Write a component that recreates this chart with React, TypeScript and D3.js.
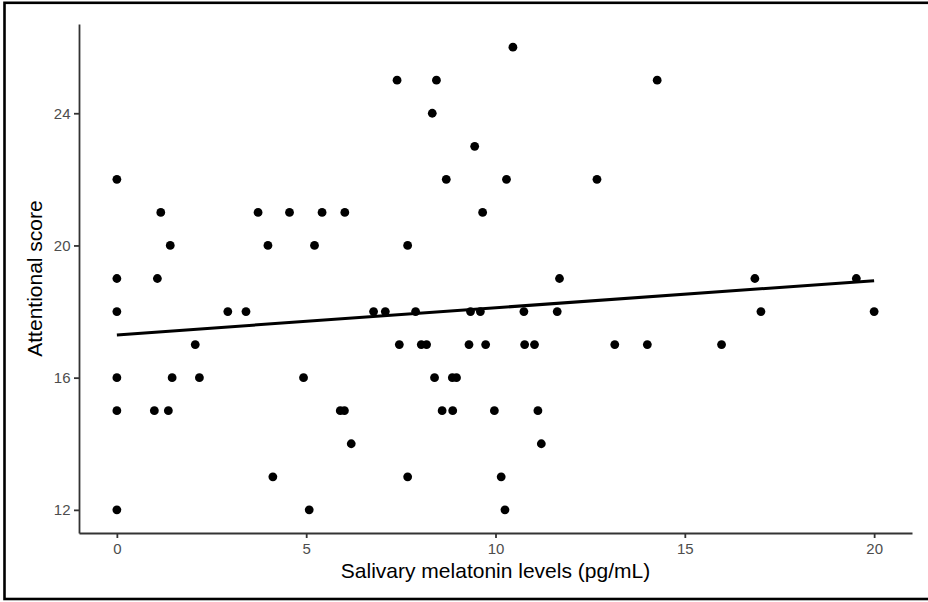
import React, { useRef, useEffect } from 'react';
import * as d3 from 'd3';

// salivary melatonin (pg/mL) and attentional score, one entry per participant
const melatonin = [
  10.46,
  7.40, 8.44, 14.27,
  8.33,
  9.45,
  0, 8.70, 10.29, 12.68,
  1.16, 3.73, 4.56, 5.42, 6.02, 9.66,
  1.41, 3.99, 5.22, 7.68,
  0, 1.07, 11.69, 16.85, 19.53,
  0, 2.93, 3.41, 6.78, 7.09, 7.89, 9.34, 9.60, 10.75, 11.63, 17.01, 20.0,
  2.07, 7.46, 8.04, 8.18, 9.30, 9.74, 10.77, 11.03, 13.15, 14.01, 15.97,
  0, 1.46, 2.18, 4.93, 8.39, 8.86, 8.97,
  0, 0.99, 1.36, 5.90, 6.01, 8.59, 8.87, 9.97, 11.12,
  6.19, 11.21,
  4.12, 7.68, 10.15,
  0, 5.08, 10.25,
];
const attention = [
  26,
  25, 25, 25,
  24,
  23,
  22, 22, 22, 22,
  21, 21, 21, 21, 21, 21,
  20, 20, 20, 20,
  19, 19, 19, 19, 19,
  18, 18, 18, 18, 18, 18, 18, 18, 18, 18, 18, 18,
  17, 17, 17, 17, 17, 17, 17, 17, 17, 17, 17,
  16, 16, 16, 16, 16, 16, 16,
  15, 15, 15, 15, 15, 15, 15, 15, 15,
  14, 14,
  13, 13, 13,
  12, 12, 12,
];
const xTicks = [0, 5, 10, 15, 20];
const yTicks = [12, 16, 20, 24];

const width = 928;
const height = 602;
const margin = { top: 24, right: 16, bottom: 69, left: 79 };

const App = () => {
  const ref = useRef<SVGSVGElement>(null);

  useEffect(() => {
    const svg = d3.select(ref.current);
    svg.selectAll('*').remove();

    const data = melatonin.map((m, i) => ({ x: m, y: attention[i] }));

    // ggplot-style 5% expansion of the data range
    const xExt = d3.extent(melatonin) as [number, number];
    const yExt = d3.extent(attention) as [number, number];
    const xPad = (xExt[1] - xExt[0]) * 0.05;
    const yPad = (yExt[1] - yExt[0]) * 0.05;

    const x = d3.scaleLinear()
      .domain([xExt[0] - xPad, xExt[1] + xPad])
      .range([margin.left, width - margin.right]);
    const y = d3.scaleLinear()
      .domain([yExt[0] - yPad, yExt[1] + yPad])
      .range([height - margin.bottom, margin.top]);

    // outer frame (right edge falls outside the picture)
    svg.append('rect')
      .attr('x', 4.5).attr('y', 2.8)
      .attr('width', width + 10).attr('height', 596.2)
      .attr('fill', 'none').attr('stroke', '#000').attr('stroke-width', 2.6);

    const axisColor = '#333';
    const labelColor = '#4d4d4d';
    const font = '"Liberation Sans", Arial, Helvetica, sans-serif';

    // x axis
    const gx = svg.append('g')
      .attr('transform', `translate(0,${height - margin.bottom})`)
      .call(d3.axisBottom(x).tickValues(xTicks).tickSize(5).tickPadding(5.5).tickSizeOuter(0));
    gx.select('.domain').attr('stroke', axisColor).attr('stroke-width', 1.8);
    gx.selectAll('.tick line').attr('stroke', axisColor).attr('stroke-width', 1.8);
    gx.selectAll('.tick text')
      .attr('fill', labelColor).style('font-size', '15px').style('font-family', font);

    // y axis
    const gy = svg.append('g')
      .attr('transform', `translate(${margin.left},0)`)
      .call(d3.axisLeft(y).tickValues(yTicks).tickSize(5).tickPadding(3.5).tickSizeOuter(0));
    gy.select('.domain').attr('stroke', axisColor).attr('stroke-width', 1.8);
    gy.selectAll('.tick line').attr('stroke', axisColor).attr('stroke-width', 1.8);
    gy.selectAll('.tick text')
      .attr('fill', labelColor).style('font-size', '15px').style('font-family', font);

    // axis titles
    svg.append('text')
      .attr('x', (margin.left + width - margin.right) / 2)
      .attr('y', 577.5)
      .attr('text-anchor', 'middle')
      .style('font-family', font).style('font-size', '21px')
      .text('Salivary melatonin levels (pg/mL)');

    svg.append('text')
      .attr('transform', `translate(42,${(margin.top + height - margin.bottom) / 2}) rotate(-90)`)
      .attr('text-anchor', 'middle')
      .style('font-family', font).style('font-size', '21px')
      .text('Attentional score');

    // points
    svg.append('g')
      .selectAll('circle')
      .data(data)
      .join('circle')
      .attr('cx', d => x(d.x))
      .attr('cy', d => y(d.y))
      .attr('r', 4.4)
      .attr('fill', '#000');

    // least squares fit, drawn over the data range
    const mx = d3.mean(melatonin) as number;
    const my = d3.mean(attention) as number;
    const sxy = d3.sum(data, d => (d.x - mx) * (d.y - my));
    const sxx = d3.sum(data, d => (d.x - mx) ** 2);
    const slope = sxy / sxx;
    const intercept = my - slope * mx;
    const fit = xExt.map(v => [v, intercept + slope * v] as [number, number]);

    svg.append('path')
      .datum(fit)
      .attr('d', d3.line<[number, number]>().x(d => x(d[0])).y(d => y(d[1])))
      .attr('fill', 'none')
      .attr('stroke', '#000')
      .attr('stroke-width', 3);
  }, []);

  return (
    <>
      <style>{'body{margin:0}'}</style>
      <svg ref={ref} width={width} height={height} style={{ display: 'block', background: '#fff' }} />
    </>
  );
};

export default App;
